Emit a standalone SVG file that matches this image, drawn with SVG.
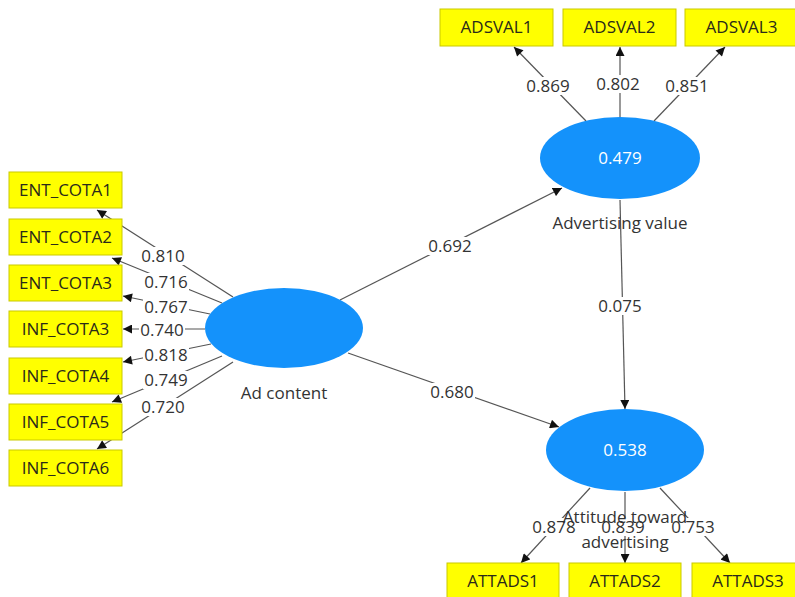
<svg xmlns="http://www.w3.org/2000/svg" width="795" height="597" viewBox="0 0 795 597">
<style>
.box{fill:#FFFF00;stroke:#C9C900;stroke-width:1}
.bt{font-family:"Open Sans","Noto Sans",sans-serif;font-size:17px;fill:#2a2a1a;text-anchor:middle}
.lv{fill:#1492FB}
.lvv{font-family:"Open Sans","Noto Sans",sans-serif;font-size:17px;fill:#ffffff;text-anchor:middle}
.lvn{font-family:"Open Sans","Noto Sans",sans-serif;font-size:17px;fill:#333333;text-anchor:middle}
.ln{stroke:#555555;stroke-width:1.2;fill:none;marker-end:url(#ah)}
.lb{fill:#ffffff}
.lt{font-family:"Open Sans","Noto Sans",sans-serif;font-size:17px;fill:#333333;text-anchor:middle}
</style>
<defs>
<marker id="ah" viewBox="0 0 10 10" refX="10" refY="5" markerWidth="10" markerHeight="9" markerUnits="userSpaceOnUse" orient="auto">
<path d="M0,0 L10,5 L0,10 z" fill="#111111"/>
</marker>
</defs>
<rect width="795" height="597" fill="#ffffff"/>
<g id="connectors">
<line class="ln" x1="233" y1="297" x2="97" y2="210"/>
<line class="ln" x1="222" y1="303" x2="112" y2="258"/>
<line class="ln" x1="210" y1="314" x2="123" y2="296"/>
<line class="ln" x1="205" y1="329" x2="123" y2="329"/>
<line class="ln" x1="211" y1="344" x2="123" y2="362"/>
<line class="ln" x1="222" y1="356" x2="112" y2="402"/>
<line class="ln" x1="233" y1="362" x2="97" y2="449"/>
<line class="ln" x1="586" y1="121" x2="514" y2="47"/>
<line class="ln" x1="620" y1="117" x2="620" y2="47"/>
<line class="ln" x1="654" y1="121" x2="725" y2="47"/>
<line class="ln" x1="340" y1="300" x2="562" y2="188"/>
<line class="ln" x1="348" y1="353" x2="559" y2="427"/>
<line class="ln" x1="620" y1="200" x2="625" y2="409"/>
<line class="ln" x1="590" y1="488" x2="521" y2="563"/>
<line class="ln" x1="625" y1="492" x2="625" y2="563"/>
<line class="ln" x1="660" y1="488" x2="730" y2="563"/>
</g>
<g id="labels">
<rect class="lb" x="140" y="247" width="46" height="18"/><text class="lt" x="163" y="262">0.810</text>
<rect class="lb" x="143" y="273" width="46" height="18"/><text class="lt" x="166" y="288">0.716</text>
<rect class="lb" x="143" y="298" width="46" height="18"/><text class="lt" x="166" y="313">0.767</text>
<rect class="lb" x="139" y="321" width="46" height="18"/><text class="lt" x="162" y="336">0.740</text>
<rect class="lb" x="143" y="346" width="46" height="18"/><text class="lt" x="166" y="361">0.818</text>
<rect class="lb" x="143" y="371" width="46" height="18"/><text class="lt" x="166" y="386">0.749</text>
<rect class="lb" x="140" y="398" width="46" height="18"/><text class="lt" x="163" y="413">0.720</text>
<rect class="lb" x="525" y="77" width="46" height="18"/><text class="lt" x="548" y="92">0.869</text>
<rect class="lb" x="595" y="75" width="46" height="18"/><text class="lt" x="618" y="90">0.802</text>
<rect class="lb" x="664" y="77" width="46" height="18"/><text class="lt" x="687" y="92">0.851</text>
<rect class="lb" x="427" y="237" width="46" height="18"/><text class="lt" x="450" y="252">0.692</text>
<rect class="lb" x="429" y="383" width="46" height="18"/><text class="lt" x="452" y="398">0.680</text>
<rect class="lb" x="597" y="297" width="46" height="18"/><text class="lt" x="620" y="312">0.075</text>
<rect class="lb" x="531" y="518" width="46" height="18"/><text class="lt" x="554" y="533">0.878</text>
<rect class="lb" x="600" y="518" width="46" height="18"/><text class="lt" x="623" y="533">0.839</text>
<rect class="lb" x="670" y="518" width="46" height="18"/><text class="lt" x="693" y="533">0.753</text>
</g>
<g id="ENT_COTA1"><rect class="box" x="9" y="172" width="113" height="36"/><text class="bt" x="65.5" y="196">ENT_COTA1</text></g>
<g id="ENT_COTA2"><rect class="box" x="9" y="219" width="113" height="36"/><text class="bt" x="65.5" y="243">ENT_COTA2</text></g>
<g id="ENT_COTA3"><rect class="box" x="9" y="265" width="113" height="36"/><text class="bt" x="65.5" y="289">ENT_COTA3</text></g>
<g id="INF_COTA3"><rect class="box" x="9" y="311" width="113" height="36"/><text class="bt" x="65.5" y="335">INF_COTA3</text></g>
<g id="INF_COTA4"><rect class="box" x="9" y="358" width="113" height="36"/><text class="bt" x="65.5" y="382">INF_COTA4</text></g>
<g id="INF_COTA5"><rect class="box" x="9" y="404" width="113" height="36"/><text class="bt" x="65.5" y="428">INF_COTA5</text></g>
<g id="INF_COTA6"><rect class="box" x="9" y="450" width="113" height="36"/><text class="bt" x="65.5" y="474">INF_COTA6</text></g>
<g id="ADSVAL1"><rect class="box" x="440" y="9" width="113" height="37"/><text class="bt" x="496.5" y="33">ADSVAL1</text></g>
<g id="ADSVAL2"><rect class="box" x="563" y="9" width="113" height="37"/><text class="bt" x="619.5" y="33">ADSVAL2</text></g>
<g id="ADSVAL3"><rect class="box" x="685" y="9" width="113" height="37"/><text class="bt" x="741.5" y="33">ADSVAL3</text></g>
<g id="ATTADS1"><rect class="box" x="447" y="563" width="112" height="38"/><text class="bt" x="503" y="587">ATTADS1</text></g>
<g id="ATTADS2"><rect class="box" x="569" y="563" width="112" height="38"/><text class="bt" x="625" y="587">ATTADS2</text></g>
<g id="ATTADS3"><rect class="box" x="692" y="563" width="112" height="38"/><text class="bt" x="748" y="587">ATTADS3</text></g>
<g id="Ad_content"><ellipse class="lv" cx="284" cy="328" rx="79" ry="40"/><text class="lvn" x="284" y="399">Ad content</text></g>
<g id="Advertising_value"><ellipse class="lv" cx="620" cy="158" rx="80" ry="41"/><text class="lvv" x="620" y="164">0.479</text><text class="lvn" x="620" y="229">Advertising value</text></g>
<g id="Attitude_toward_advertising"><ellipse class="lv" cx="625" cy="450" rx="79" ry="41"/><text class="lvv" x="625" y="456">0.538</text><text class="lvn" x="625" y="523">Attitude toward</text><text class="lvn" x="625" y="548">advertising</text></g>
</svg>
